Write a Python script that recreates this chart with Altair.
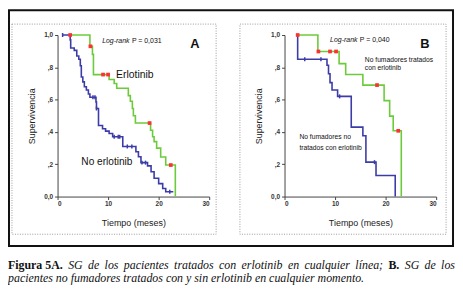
import altair as alt
import pandas as pd

# ---------------- data ----------------
# Panel A - Erlotinib (green)
a_erl_t = [2.5, 6.4, 6.9, 7.1, 10.2, 11.2, 11.7, 14.0, 14.4, 14.8, 15.0, 15.4, 18.4, 18.8, 19.1, 19.6, 20.4, 21.4, 23.3]
a_erl_s = [1.0, 0.93, 0.88, 0.755, 0.725, 0.70, 0.67, 0.625, 0.59, 0.545, 0.50, 0.455, 0.41, 0.37, 0.34, 0.30, 0.245, 0.195, 0.0]
a_erl_cens_t = [2.5, 6.5, 9.0, 10.0, 18.2, 22.4]
a_erl_cens_s = [1.0, 0.93, 0.755, 0.755, 0.455, 0.195]
# Panel A - No erlotinib (blue)
a_no_t = [1.0, 2.5, 2.6, 3.3, 3.8, 4.2, 4.5, 4.7, 5.0, 5.3, 5.7, 6.1, 6.4, 7.6, 7.7, 8.1, 8.9, 9.5, 10.2, 10.9,
          12.9, 15.5, 16.0, 16.5, 17.8, 18.5, 19.1, 20.0, 20.8, 21.4, 22.9]
a_no_s = [1.0, 0.97, 0.92, 0.905, 0.87, 0.85, 0.81, 0.74, 0.71, 0.68, 0.66, 0.635, 0.615, 0.585, 0.545, 0.44, 0.42, 0.405, 0.39, 0.37,
          0.31, 0.277, 0.246, 0.21, 0.19, 0.154, 0.113, 0.08, 0.05, 0.03, 0.03]
a_no_cens_t = [1.0, 7.0, 7.4, 7.7, 11.2, 12.0, 12.3, 13.8, 14.7, 16.7, 17.4, 22.2]
a_no_cens_s = [1.0, 0.615, 0.615, 0.545, 0.37, 0.37, 0.37, 0.31, 0.31, 0.21, 0.21, 0.03]

# Panel B - No fumadores tratados con erlotinib (green)
b_erl_t = [2.6, 6.6, 10.8, 12.1, 15.5, 19.7, 20.8, 21.5, 23.1]
b_erl_s = [1.0, 0.898, 0.823, 0.756, 0.69, 0.594, 0.498, 0.407, 0.0]
b_erl_cens_t = [2.6, 6.7, 9.0, 10.2, 18.3, 22.5]
b_erl_cens_s = [1.0, 0.898, 0.898, 0.898, 0.69, 0.407]
# Panel B - No fumadores no tratados con erlotinib (blue)
b_no_t = [2.6, 2.6, 8.4, 8.7, 9.0, 9.4, 10.5, 13.2, 15.5, 16.1, 18.1, 21.9]
b_no_s = [1.0, 0.85, 0.813, 0.76, 0.705, 0.66, 0.62, 0.43, 0.376, 0.213, 0.13, 0.0]
b_no_cens_t = [4.0, 7.2, 10.9, 17.8]
b_no_cens_s = [0.85, 0.85, 0.62, 0.213]

# axes
x_ticks = [0, 10, 20, 30]
y_ticks = [0, 0.2, 0.4, 0.6, 0.8, 1.0]
x_title = "Tiempo (meses)"
y_title = "Supervivencia"

# texts
logrank_word = "Log-rank"
a_p = "P = 0,031"
b_p = "P = 0,040"
a_letter = "A"
b_letter = "B"
a_lab_erl = "Erlotinib"
a_lab_no = "No erlotinib"
b_lab_erl = ["No fumadores tratados", "con erlotinib"]
b_lab_no = ["No fumadores no", "tratados con erlotinib"]
cap1_words = ["Figura 5A.", "SG", "de", "los", "pacientes", "tratados", "con", "erlotinib", "en",
              "cualquier", "línea;", "B.", "SG", "de", "los"]
cap1_bold = ["Figura 5A.", "B."]
cap2 = "pacientes no fumadores tratados con y sin erlotinib en cualquier momento."

# ---------------- styling ----------------
GREEN = "#6ccb3a"
BLUE = "#3c3ca8"
RED = "#ff3030"
SANS = "Liberation Sans"
SERIF = "Liberation Serif"
W, H = 153, 163
CAP_SIZE = 12

# Liberation Serif (Times metrics) advance widths, per 1000 em, used to justify caption line 1
IT = dict(a=500, b=500, c=444, d=500, e=444, f=278, g=500, h=500, i=278, l=278, m=722, n=500, o=500, p=500,
          q=500, r=389, s=389, t=278, u=500, v=444, y=444, **{"í": 278, "S": 500, "G": 722, ";": 333, ".": 250, " ": 250})
BD = dict(F=611, i=278, g=500, u=556, r=444, a=500, A=722, B=667, **{"5": 500, ".": 250, " ": 250})


def word_w(w, bold):
    tab = BD if bold else IT
    return sum(tab.get(ch, 500) for ch in w) * CAP_SIZE / 1000.0


xs = alt.Scale(domain=[0, 30], nice=False, zero=False)
ys = alt.Scale(domain=[0, 1], nice=False)

x_axis = alt.Axis(values=x_ticks, title=x_title, grid=False, tickSize=3, tickColor="#444", domainColor="#444",
                  labelFont=SANS, labelFontSize=6.5, labelFontWeight="bold", labelColor="#333", labelPadding=1,
                  titleFont=SANS, titleFontSize=9, titleFontWeight="normal", titleColor="#222",
                  titleX=W / 2, titleY=26, titleAlign="center", titleBaseline="middle")
y_axis = alt.Axis(values=y_ticks, title=y_title, grid=False, tickSize=3, tickColor="#444", domainColor="#444",
                  labelExpr="datum.value == 0 ? '0,0' : (datum.value == 1 ? '1,0' : ',' + round(datum.value * 10))",
                  labelFont=SANS, labelFontSize=6.5, labelFontWeight="bold", labelColor="#333", labelPadding=2,
                  titleFont=SANS, titleFontSize=9, titleFontWeight="normal", titleColor="#222",
                  titleX=-26, titleY=H / 2, titleAngle=270, titleAlign="center", titleBaseline="middle")

XE = alt.X("t:Q", scale=xs, axis=x_axis)
YE = alt.Y("s:Q", scale=ys, axis=y_axis)


def curve(t, s, color):
    df = pd.DataFrame({"t": t, "s": s, "i": list(range(len(t)))})
    return alt.Chart(df).mark_line(interpolate="step-after", color=color, strokeWidth=1.6).encode(
        x=XE, y=YE, order="i:Q")


def marks(t, s, color, kind):
    df = pd.DataFrame({"t": t, "s": s})
    if kind == "red":
        m = alt.Chart(df).mark_point(shape="square", filled=True, size=14, color=color, opacity=1)
    else:
        m = alt.Chart(df).mark_point(shape="M0,-1L0,1", filled=False, size=16, strokeWidth=1.5, color=color, opacity=1)
    return m.encode(x=XE, y=YE)


def txt(s, x, y, size, weight="normal", style="normal", font=SANS, color="#111", align="left", baseline="middle"):
    return alt.Chart(pd.DataFrame({"label": [s]})).mark_text(
        align=align, baseline=baseline, fontSize=size, fontWeight=weight, fontStyle=style, font=font, color=color
    ).encode(text="label:N", x=alt.value(x), y=alt.value(y))


def box(x1, x2, y1, y2, color, width, dash=None):
    kw = dict(fillOpacity=0, stroke=color, strokeWidth=width)
    if dash:
        kw["strokeDash"] = dash
    return alt.Chart(pd.DataFrame({"k": [0]})).mark_rect(**kw).encode(
        x=alt.value(x1), x2=alt.value(x2), y=alt.value(y1), y2=alt.value(y2))


# justified first caption line (relative to panel A plot origin)
CAP_L, CAP_R = -50, 401
widths = [word_w(w, w in cap1_bold) for w in cap1_words]
gap = (CAP_R - CAP_L - sum(widths)) / (len(cap1_words) - 1)
cap_layers = []
xpos = CAP_L
for w, wd in zip(cap1_words, widths):
    bold = w in cap1_bold
    cap_layers.append(txt(w, xpos, 232.5, CAP_SIZE, weight="bold" if bold else "normal",
                          style="normal" if bold else "italic", font=SERIF))
    xpos += wd + gap
cap_layers.append(txt(cap2, CAP_L, 245.5, CAP_SIZE, style="italic", font=SERIF))

panel_a = alt.layer(
    box(-49, 399, -25, 213, "#111", 2),
    box(-46, 160, -11, 201, "#9a9a9a", 1, [1, 1.5]),
    curve(a_no_t, a_no_s, BLUE),
    curve(a_erl_t, a_erl_s, GREEN),
    marks(a_no_cens_t, a_no_cens_s, BLUE, "blue"),
    marks(a_erl_cens_t, a_erl_cens_s, RED, "red"),
    txt(logrank_word, 45, 6, 7, style="italic"),
    txt(a_p, 75, 6, 7),
    txt(a_letter, 134, 9, 13, weight="bold"),
    txt(a_lab_erl, 59, 40, 10.5),
    txt(a_lab_no, 24, 128, 10.2),
    *cap_layers,
).properties(width=W, height=H)

panel_b = alt.layer(
    box(-45, 163, -11, 201, "#9a9a9a", 1, [1, 1.5]),
    curve(b_no_t, b_no_s, BLUE),
    curve(b_erl_t, b_erl_s, GREEN),
    marks(b_no_cens_t, b_no_cens_s, BLUE, "blue"),
    marks(b_erl_cens_t, b_erl_cens_s, RED, "red"),
    txt(logrank_word, 46, 5, 7, style="italic"),
    txt(b_p, 76, 5, 7),
    txt(b_letter, 137, 9, 13, weight="bold"),
    txt(b_lab_erl[0], 81, 25, 6.8),
    txt(b_lab_erl[1], 81, 33, 6.8),
    txt(b_lab_no[0], 15, 103, 6.8),
    txt(b_lab_no[1], 15, 114, 6.8),
).properties(width=W, height=H)

chart = alt.hconcat(panel_a, panel_b, spacing=76, bounds="flush").properties(
    padding=0, background="white"
).configure_view(strokeWidth=0)

chart.save("out.html", embed_options={"renderer": "svg", "actions": False})
